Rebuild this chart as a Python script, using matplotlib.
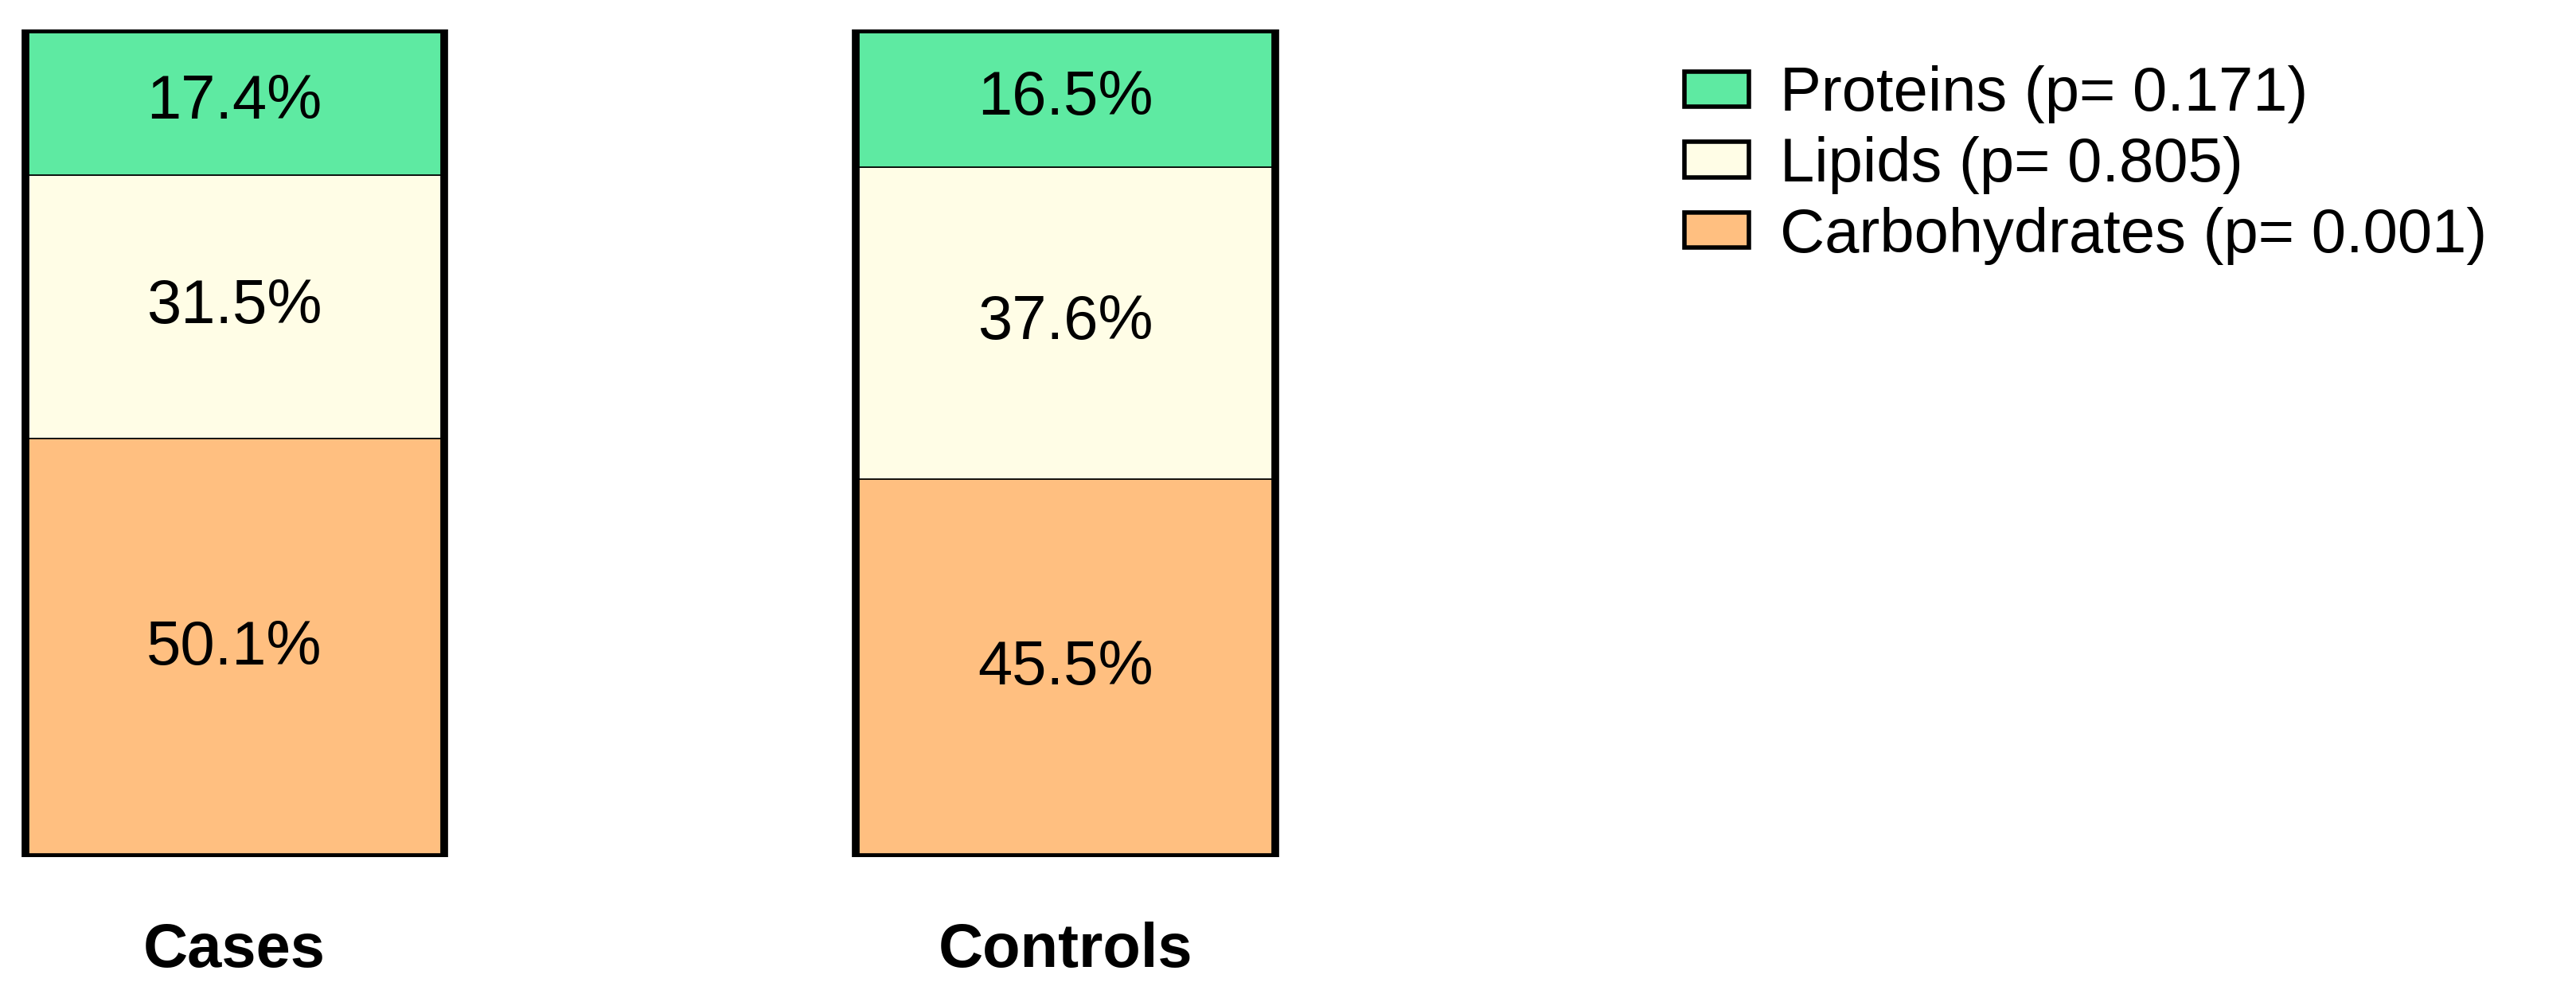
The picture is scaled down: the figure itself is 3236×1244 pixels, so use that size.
import matplotlib.pyplot as plt
from matplotlib.patches import Patch

plt.rcParams["font.family"] = ["Liberation Sans", "DejaVu Sans"]

groups = ["Cases", "Controls"]
components = ["Carbohydrates", "Lipids", "Proteins"]
legend_labels = {
    "Proteins": "Proteins (p= 0.171)",
    "Lipids": "Lipids (p= 0.805)",
    "Carbohydrates": "Carbohydrates (p= 0.001)",
}
carbs = [50.1, 45.5]
lipids = [31.5, 37.6]
proteins = [17.4, 16.5]
colors = {"Carbohydrates": "#ffbf80", "Lipids": "#fffde6", "Proteins": "#5eeaa2"}

fig = plt.figure(figsize=(32.37, 12.44), dpi=100)
ax = fig.add_axes([0.0, 0.134, 0.5, 0.836])
centers = [0.182, 0.827]
width = 0.325

series = {"Carbohydrates": carbs, "Lipids": lipids, "Proteins": proteins}
bottoms = [0.0, 0.0]
totals = [sum(v[i] for v in series.values()) for i in range(2)]
for comp in components:
    vals = series[comp]
    heights = [vals[i] / totals[i] * 100 for i in range(2)]
    ax.bar(centers, heights, width=width, bottom=bottoms, color=colors[comp],
           edgecolor="black", linewidth=1.2)
    for i in range(2):
        ax.text(centers[i], bottoms[i] + heights[i] / 2, f"{vals[i]}%",
                ha="center", va="center", fontsize=56)
    bottoms = [bottoms[i] + heights[i] for i in range(2)]

for c in centers:
    ax.bar(c, 100, width=width, fill=False, edgecolor="black", linewidth=7)

ax.set_xlim(0, 1)
ax.set_ylim(0, 100)
ax.axis("off")

for c, g in zip(centers, groups):
    fig.text(c * 0.5, 0.04, g, ha="center", va="center", fontsize=56, fontweight="bold")

handles = [Patch(facecolor=colors[k], edgecolor="black", linewidth=4, label=legend_labels[k])
           for k in ["Proteins", "Lipids", "Carbohydrates"]]
fig.legend(handles=handles, loc="upper left", bbox_to_anchor=(0.632, 0.99),
           frameon=False, fontsize=56, handlelength=1.05, handleheight=0.5,
           labelspacing=0.2, handletextpad=0.5)

fig.savefig("out.png", dpi=100)
